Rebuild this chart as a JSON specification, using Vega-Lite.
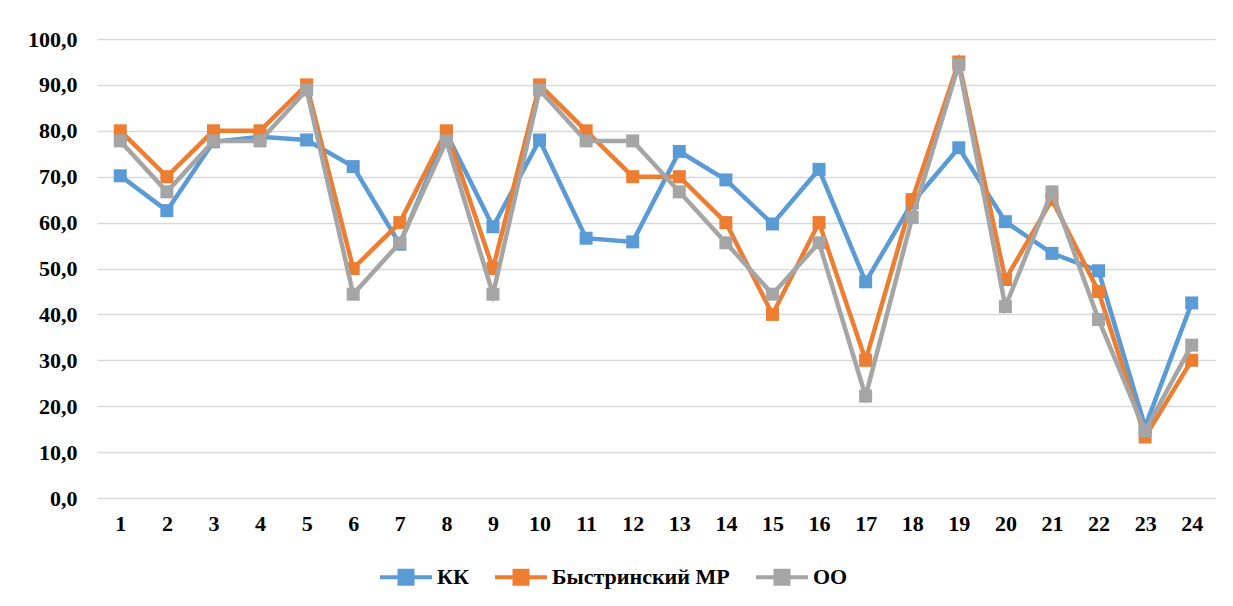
{
  "$schema": "https://vega.github.io/schema/vega-lite/v6.json",
  "width": 1118,
  "height": 459,
  "autosize": {"type": "none"},
  "padding": {"left": 97, "top": 39, "right": 18, "bottom": 108},
  "background": "white",
  "config": {
    "view": {"stroke": null},
    "font": "Liberation Serif, Times New Roman, serif"
  },
  "datasets": {
    "d": [
      {"n":1,"s":"КК","v":70.2},{"n":2,"s":"КК","v":62.6},{"n":3,"s":"КК","v":77.6},{"n":4,"s":"КК","v":78.7},{"n":5,"s":"КК","v":78.0},{"n":6,"s":"КК","v":72.2},{"n":7,"s":"КК","v":55.3},{"n":8,"s":"КК","v":79.5},{"n":9,"s":"КК","v":59.1},{"n":10,"s":"КК","v":78.0},{"n":11,"s":"КК","v":56.6},{"n":12,"s":"КК","v":55.8},{"n":13,"s":"КК","v":75.5},{"n":14,"s":"КК","v":69.3},{"n":15,"s":"КК","v":59.7},{"n":16,"s":"КК","v":71.6},{"n":17,"s":"КК","v":47.1},{"n":18,"s":"КК","v":64.3},{"n":19,"s":"КК","v":76.3},{"n":20,"s":"КК","v":60.2},{"n":21,"s":"КК","v":53.3},{"n":22,"s":"КК","v":49.5},{"n":23,"s":"КК","v":15.5},{"n":24,"s":"КК","v":42.5},
      {"n":1,"s":"Быстринский МР","v":80},{"n":2,"s":"Быстринский МР","v":70},{"n":3,"s":"Быстринский МР","v":80},{"n":4,"s":"Быстринский МР","v":80},{"n":5,"s":"Быстринский МР","v":90},{"n":6,"s":"Быстринский МР","v":50},{"n":7,"s":"Быстринский МР","v":60},{"n":8,"s":"Быстринский МР","v":80},{"n":9,"s":"Быстринский МР","v":50},{"n":10,"s":"Быстринский МР","v":90},{"n":11,"s":"Быстринский МР","v":80},{"n":12,"s":"Быстринский МР","v":70},{"n":13,"s":"Быстринский МР","v":70},{"n":14,"s":"Быстринский МР","v":60},{"n":15,"s":"Быстринский МР","v":40},{"n":16,"s":"Быстринский МР","v":60},{"n":17,"s":"Быстринский МР","v":30},{"n":18,"s":"Быстринский МР","v":65},{"n":19,"s":"Быстринский МР","v":95},{"n":20,"s":"Быстринский МР","v":47.6},{"n":21,"s":"Быстринский МР","v":65},{"n":22,"s":"Быстринский МР","v":45},{"n":23,"s":"Быстринский МР","v":13.3},{"n":24,"s":"Быстринский МР","v":30},
      {"n":1,"s":"ОО","v":77.8},{"n":2,"s":"ОО","v":66.7},{"n":3,"s":"ОО","v":77.8},{"n":4,"s":"ОО","v":77.8},{"n":5,"s":"ОО","v":88.9},{"n":6,"s":"ОО","v":44.4},{"n":7,"s":"ОО","v":55.6},{"n":8,"s":"ОО","v":77.8},{"n":9,"s":"ОО","v":44.4},{"n":10,"s":"ОО","v":88.9},{"n":11,"s":"ОО","v":77.8},{"n":12,"s":"ОО","v":77.8},{"n":13,"s":"ОО","v":66.7},{"n":14,"s":"ОО","v":55.6},{"n":15,"s":"ОО","v":44.4},{"n":16,"s":"ОО","v":55.6},{"n":17,"s":"ОО","v":22.2},{"n":18,"s":"ОО","v":61.1},{"n":19,"s":"ОО","v":94.4},{"n":20,"s":"ОО","v":41.7},{"n":21,"s":"ОО","v":66.7},{"n":22,"s":"ОО","v":38.9},{"n":23,"s":"ОО","v":14.6},{"n":24,"s":"ОО","v":33.3}
    ]
  },
  "data": {"name": "d"},
  "encoding": {
    "x": {
      "field": "n", "type": "ordinal",
      "axis": {"title": null, "labelAngle": 0, "domain": false, "ticks": false, "labelPadding": 15, "labelFont": "Liberation Serif, Times New Roman, serif", "labelFontSize": 22, "labelFontWeight": "bold", "labelColor": "black", "grid": false}
    },
    "y": {
      "field": "v", "type": "quantitative",
      "scale": {"domain": [0, 100], "nice": false},
      "axis": {"title": null, "values": [0,10,20,30,40,50,60,70,80,90,100], "labelExpr": "replace(format(datum.value, '.1f'), '.', ',')", "domain": false, "ticks": false, "labelPadding": 20, "labelFont": "Liberation Serif, Times New Roman, serif", "labelFontSize": 22, "labelFontWeight": "bold", "labelColor": "black", "gridColor": "#D9D9D9", "gridWidth": 1.3}
    },
    "color": {
      "field": "s", "type": "nominal",
      "scale": {"domain": ["КК", "Быстринский МР", "ОО"], "range": ["#5B9BD5", "#ED7D31", "#A5A5A5"]},
      "legend": {
        "title": null, "orient": "none", "legendX": 281, "legendY": 510, "direction": "horizontal",
        "symbolType": "M-1,0L1,0M-0.25,-0.25L0.25,-0.25L0.25,0.25L-0.25,0.25ZM-0.1,-0.1L0.1,-0.1L0.1,0.1L-0.1,0.1Z",
        "symbolSize": 2704, "symbolStrokeWidth": 4, "symbolFillColor": "transparent",
        "labelFont": "Liberation Serif, Times New Roman, serif", "labelFontSize": 22, "labelFontWeight": "bold", "labelColor": "black",
        "labelLimit": 500, "labelOffset": 3, "columnPadding": 18
      }
    }
  },
  "layer": [
    {"transform": [{"filter": "datum.s === 'КК'"}], "mark": {"type": "line", "strokeWidth": 4.5, "point": {"shape": "square", "size": 169, "filled": true, "opacity": 1}}},
    {"transform": [{"filter": "datum.s === 'Быстринский МР'"}], "mark": {"type": "line", "strokeWidth": 4.5, "point": {"shape": "square", "size": 169, "filled": true, "opacity": 1}}},
    {"transform": [{"filter": "datum.s === 'ОО'"}], "mark": {"type": "line", "strokeWidth": 4.5, "point": {"shape": "square", "size": 169, "filled": true, "opacity": 1}}}
  ]
}
